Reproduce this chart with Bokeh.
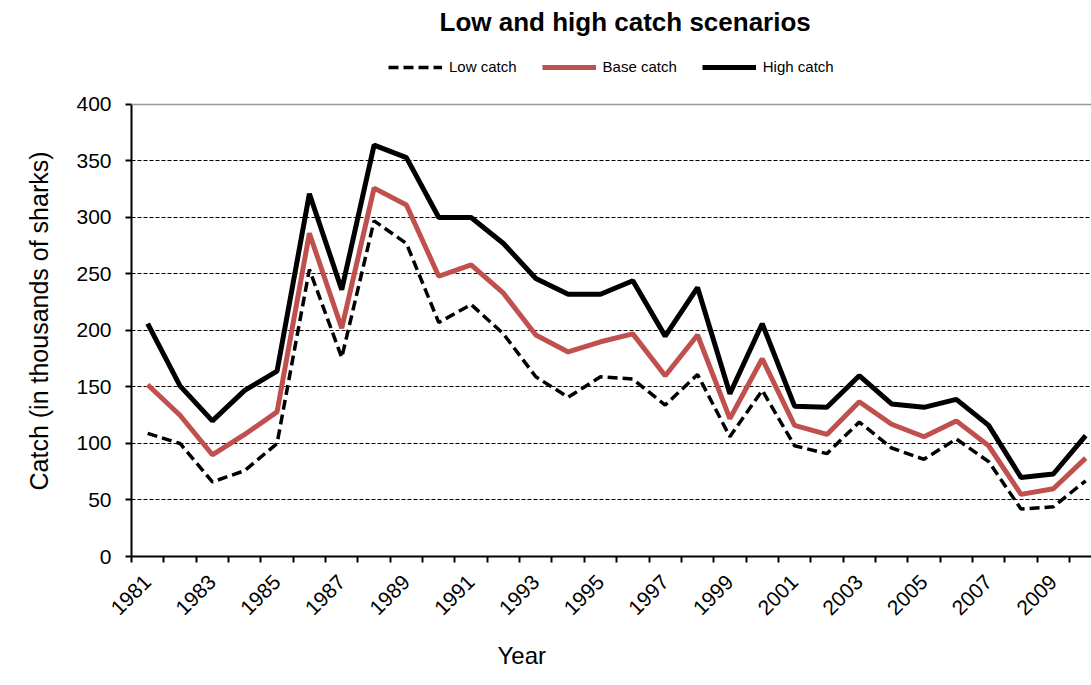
import math
from bokeh.plotting import figure
from bokeh.models import Range1d, FixedTicker, Legend, LegendItem, Span, Title
from bokeh.embed import file_html
from bokeh.resources import INLINE

years = list(range(1981, 2011))
low_catch = [109, 100, 66, 76, 100, 254, 176, 297, 277, 207, 223, 197, 159, 141, 159,
             157, 134, 161, 106, 147, 98, 91, 119, 96, 86, 104, 84, 42, 44, 67]
base_catch = [152, 125, 90, 108, 128, 286, 202, 326, 311, 248, 258, 233, 196, 181, 190,
              197, 160, 196, 122, 175, 116, 108, 137, 117, 106, 120, 98, 55, 60, 87]
high_catch = [206, 151, 120, 147, 164, 321, 236, 364, 353, 300, 300, 277, 246, 232, 232,
              244, 195, 238, 144, 206, 133, 132, 160, 135, 132, 139, 116, 70, 73, 107]
tick_years = list(range(1981, 2010, 2))
tick_labels = [str(y) for y in tick_years]
y_ticks = [0, 50, 100, 150, 200, 250, 300, 350, 400]

FONT = "Liberation Sans"

p = figure(width=1091, height=685, output_backend="svg", toolbar_location=None,
           x_range=Range1d(1980.5, 2010.18), y_range=Range1d(0, 456.6),
           min_border_left=131, min_border_right=0, min_border_top=40,
           min_border_bottom=129)
p.outline_line_color = None
p.background_fill_color = "white"
p.border_fill_color = "white"
p.title.text = "Low and high catch scenarios"
p.title.align = "left"
p.title.offset = 308
p.title.standoff = 8
p.title.text_font = FONT
p.title.text_font_size = "26px"
p.title.text_font_style = "bold"
p.title.text_color = "black"

# top reference line
p.add_layout(Span(location=400, dimension="width", line_color="#999999", line_width=1.5))

r_low = p.line(years, low_catch, line_color="black", line_width=3.5, line_dash="10 5")
r_base = p.line(years, base_catch, line_color="#C0504D", line_width=5)
r_high = p.line(years, high_catch, line_color="black", line_width=5)

# axes
p.xgrid.grid_line_color = None
p.ygrid.grid_line_color = "black"
p.ygrid.grid_line_dash = "4 2"
p.ygrid.grid_line_width = 1
p.ygrid.ticker = FixedTicker(ticks=y_ticks)

xa = p.xaxis[0]
xa.ticker = FixedTicker(ticks=tick_years,
                        minor_ticks=[y - 0.5 for y in years] + [years[-1] + 0.5])
xa.major_label_overrides = {t: l for t, l in zip(tick_years, tick_labels)}
xa.major_label_orientation = math.pi / 4
xa.major_tick_out = 0
xa.major_tick_in = 0
xa.minor_tick_out = 6
xa.minor_tick_in = 0
xa.minor_tick_line_color = "black"
xa.minor_tick_line_width = 2
xa.axis_line_width = 2
xa.axis_line_color = "black"
xa.major_label_text_font = FONT
xa.major_label_text_font_size = "21px"
xa.major_label_text_color = "black"
xa.major_label_standoff = 16

ya = p.yaxis[0]
ya.bounds = (0, 400)
ya.ticker = FixedTicker(ticks=y_ticks, minor_ticks=[])
ya.major_tick_out = 6
ya.major_tick_in = 0
ya.major_tick_line_width = 2
ya.axis_line_width = 2
ya.axis_line_color = "black"
ya.major_label_text_font = FONT
ya.major_label_text_font_size = "21px"
ya.major_label_text_color = "black"
ya.major_label_standoff = 14

# axis titles as positioned titles
p.add_layout(Title(text="Year", align="left", offset=366, standoff=30,
                   text_font=FONT, text_font_size="24px", text_font_style="normal",
                   text_color="black"), "below")
p.add_layout(Title(text="Catch (in thousands of sharks)", align="left", offset=66,
                   standoff=42, text_font=FONT, text_font_size="25px",
                   text_font_style="normal", text_color="black"), "left")

legend = Legend(items=[LegendItem(label="Low catch", renderers=[r_low]),
                       LegendItem(label="Base catch", renderers=[r_base]),
                       LegendItem(label="High catch", renderers=[r_high])],
                orientation="horizontal", location=(257, 481),
                label_text_font=FONT, label_text_font_size="15px",
                label_text_color="black",
                glyph_width=54, glyph_height=16, label_standoff=7, spacing=25,
                padding=0, margin=0, border_line_color=None,
                background_fill_alpha=0)
p.add_layout(legend)

open("out.html", "w").write(file_html(p, INLINE))
